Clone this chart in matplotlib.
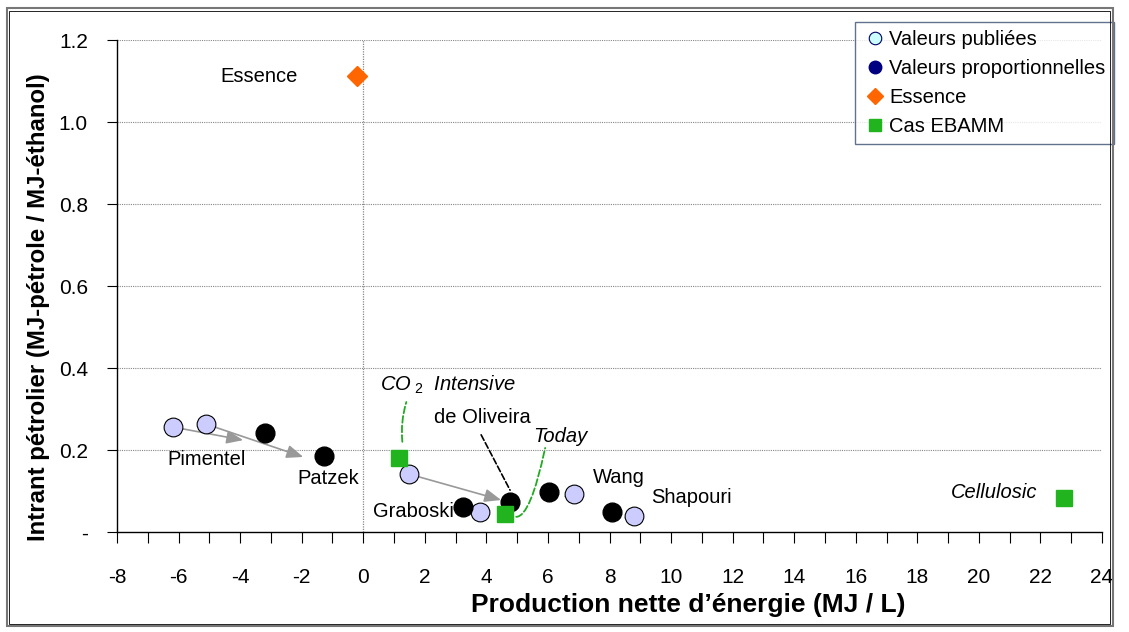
import matplotlib
matplotlib.use("Agg")
import matplotlib.pyplot as plt
from matplotlib.lines import Line2D
from matplotlib.patches import Rectangle

plt.rcParams['font.family'] = ['Liberation Sans', 'DejaVu Sans']
plt.rcParams['mathtext.fontset'] = 'custom'
plt.rcParams['mathtext.rm'] = 'Liberation Sans'
plt.rcParams['mathtext.it'] = 'Liberation Sans:italic'

# published values (light circles)
pub_x = [-6.18, -5.1, 1.5, 3.8, 6.86, 8.81]
pub_y = [0.256, 0.263, 0.141, 0.049, 0.093, 0.039]
# proportional values (black circles)
prop_x = [-3.19, -1.27, 3.25, 4.78, 6.02, 8.07]
prop_y = [0.241, 0.185, 0.061, 0.073, 0.098, 0.049]
# gasoline
ess_x = [-0.2]
ess_y = [1.112]
# EBAMM cases
eb_x = [1.17, 4.62, 22.76]
eb_y = [0.180, 0.044, 0.083]

# arrows: published value -> arrow head
arr_start = [(-6.18, 0.256), (-5.1, 0.263), (1.5, 0.141), (3.8, 0.049), (6.86, 0.093), (8.81, 0.039)]
arr_end = [(-3.9, 0.224), (-1.95, 0.183), (4.48, 0.078), (3.42, 0.049), (6.5, 0.085), (8.45, 0.034)]

# study names
names = ['Pimentel', 'Patzek', 'Graboski', 'de Oliveira', 'Wang', 'Shapouri']
name_pos = [(-5.1, 0.178), (-1.15, 0.131), (2.95, 0.049), (3.87, 0.28), (8.3, 0.134), (10.65, 0.083)]
name_ha = ['center', 'center', 'right', 'center', 'center', 'center']

xticks = list(range(-8, 25))
xlabels = [str(v) if v % 2 == 0 else '' for v in xticks]
yticks = [0, 0.2, 0.4, 0.6, 0.8, 1.0, 1.2]
ylabels = ['-', '0.2', '0.4', '0.6', '0.8', '1.0', '1.2']

fig = plt.figure(figsize=(11.29, 6.32), dpi=100)
ax = fig.add_axes([117/1129, 1-532/632, (1102-117)/1129, (532-40)/632])

ax.set_xlim(-8, 24)
ax.set_ylim(0, 1.2)
for s in ['top', 'right']:
    ax.spines[s].set_visible(False)
ax.spines['left'].set_linewidth(1)
ax.spines['bottom'].set_linewidth(1)

for v in yticks[1:]:
    ax.axhline(v, color='#888888', lw=0.8, ls=(0, (1, 1)), zorder=0)
ax.axvline(0, color='#888888', lw=0.9, ls=(0, (1, 1)), zorder=0)

ax.set_xticks(xticks)
ax.set_xticklabels(xlabels, fontsize=15)
ax.set_yticks(yticks)
ax.set_yticklabels(ylabels, fontsize=15)
ax.tick_params(axis='x', direction='out', length=8, pad=18)
ax.tick_params(axis='y', direction='out', length=7, pad=14)

# arrows
for (sx, sy), (ex, ey) in zip(arr_start, arr_end):
    ax.annotate('', xy=(ex, ey), xytext=(sx, sy),
                arrowprops=dict(arrowstyle='-|>,head_length=1.0,head_width=0.4',
                                color='#999999', lw=1.2, shrinkA=0, shrinkB=0),
                zorder=3)

# leader lines
ax.annotate('', xy=(1.40, 0.317), xytext=(1.27, 0.22),
            arrowprops=dict(arrowstyle='-', color='#22aa22', lw=1.3, ls='--',
                            shrinkA=0, shrinkB=0, connectionstyle='arc3,rad=-0.1'))
ax.annotate('', xy=(5.91, 0.205), xytext=(4.97, 0.037),
            arrowprops=dict(arrowstyle='-', color='#22aa22', lw=1.3, ls='--',
                            shrinkA=0, shrinkB=0, connectionstyle='angle3,angleA=0,angleB=78'))
ax.annotate('', xy=(4.77, 0.102), xytext=(3.83, 0.237),
            arrowprops=dict(arrowstyle='-', color='black', lw=1.2, ls='--',
                            shrinkA=0, shrinkB=0))

ax.plot(pub_x, pub_y, 'o', ms=13.5, mfc='#ccccff', mec='black', mew=0.8, ls='none', zorder=5)
ax.plot(prop_x, prop_y, 'o', ms=13.5, mfc='black', mec='black', ls='none', zorder=5)
ax.plot(ess_x, ess_y, 'D', ms=10.5, mfc='#ff6600', mec='#ff6600', ls='none', zorder=5)
ax.plot(eb_x, eb_y, 's', ms=12, mfc='#22b41e', mec='#22b41e', ls='none', zorder=5)

for n, (tx, ty), ha in zip(names, name_pos, name_ha):
    ax.text(tx, ty, n, fontsize=14.5, ha=ha, va='center')
ax.text(-3.4, 1.112, 'Essence', fontsize=14.5, ha='center', va='center')
ax.text(0.55, 0.358, r'CO$_{\ 2}$  Intensive', fontsize=14.5, style='italic', ha='left', va='center')
ax.text(6.4, 0.232, 'Today', fontsize=14.5, style='italic', ha='center', va='center')
ax.text(21.9, 0.097, 'Cellulosic', fontsize=14.5, style='italic', ha='right', va='center')

ax.set_xlabel("Production nette d\u2019énergie (MJ / L)", fontsize=19, fontweight='bold')
ax.xaxis.set_label_coords(0.58, -0.124)
ax.set_ylabel('Intrant pétrolier (MJ-pétrole / MJ-éthanol)', fontsize=17.3, fontweight='bold')
ax.yaxis.set_label_coords(-0.068, 0.457)

handles = [
    Line2D([], [], marker='o', ls='none', ms=9, mfc='#ccffff', mec='#000066', mew=0.8),
    Line2D([], [], marker='o', ls='none', ms=9, mfc='#000080', mec='#000080'),
    Line2D([], [], marker='D', ls='none', ms=8, mfc='#ff6600', mec='#ff6600'),
    Line2D([], [], marker='s', ls='none', ms=9, mfc='#22b41e', mec='#22b41e'),
]
labels = ['Valeurs publiées', 'Valeurs proportionnelles', 'Essence', 'Cas EBAMM']
leg = ax.legend(handles, labels, loc='upper left', bbox_to_anchor=(855/1129, 1-22/632),
                bbox_transform=fig.transFigure, fontsize=14.5, frameon=True, fancybox=False,
                edgecolor='#3a5070', borderpad=0.4, labelspacing=0.5, handletextpad=0.1,
                handlelength=1.2, borderaxespad=0)
leg.get_frame().set_linewidth(1)

fig.patches.append(Rectangle((7/1129, 1-626/632), (1113-7)/1129, (626-8)/632,
                             transform=fig.transFigure, fill=False, ec='#777777', lw=1.5))
fig.patches.append(Rectangle((9/1129, 1-624/632), (1110-9)/1129, (624-11)/632,
                             transform=fig.transFigure, fill=False, ec='black', lw=0.6))

fig.savefig('out.png', dpi=100)
